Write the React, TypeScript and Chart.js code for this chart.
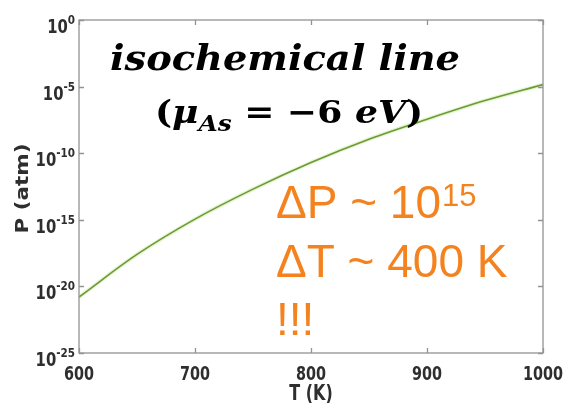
import React, { useEffect, useRef } from "react";
import { Chart, registerables } from "chart.js";
Chart.register(...registerables);

const temperatures = [600, 650, 700, 750, 800, 850, 900, 950, 1000];
const pressures = [1.58e-21, 2.51e-18, 1.12e-15, 2.0e-13, 2.0e-11, 1.12e-9, 3.55e-8, 8.9e-7, 1.41e-5];
const xTicks = [600, 700, 800, 900, 1000];
const yTickExponents = [0, -5, -10, -15, -20, -25];
const xTitle = "T (K)";
const yTitle = "P (atm)";
const titleLine1 = "isochemical line";
const noteP = ["\u0394P ~ 10", "15"];
const noteT = "\u0394T ~ 400 K";
const noteBang = "!!!";

const AXIS_FONT = "bold 20px 'DejaVu Sans', sans-serif";
const SERIF = "'DejaVu Serif', 'Liberation Serif', serif";
const ORANGE = "#F4831F";

function drawScaled(ctx: CanvasRenderingContext2D, text: string, x: number, y: number, sx: number, align: "left" | "center" | "right") {
  const w = ctx.measureText(text).width * sx;
  let x0 = x;
  if (align === "center") x0 = x - w / 2;
  if (align === "right") x0 = x - w;
  ctx.save();
  ctx.translate(x0, y);
  ctx.scale(sx, 1);
  ctx.textAlign = "left";
  ctx.fillText(text, 0, 0);
  ctx.restore();
  return w;
}

const decorPlugin = {
  id: "decor",
  afterDraw(chart: any) {
    const ctx: CanvasRenderingContext2D = chart.ctx;
    const { left, top, right, bottom } = chart.chartArea;
    const xs = chart.scales.x;
    const ys = chart.scales.y;
    ctx.save();
    // box
    ctx.strokeStyle = "#939393";
    ctx.lineWidth = 1.3;
    ctx.strokeRect(left, top, right - left, bottom - top);
    // inner ticks
    ctx.beginPath();
    xTicks.forEach((t) => {
      const px = Math.round(xs.getPixelForValue(t)) + 0.5;
      ctx.moveTo(px, bottom);
      ctx.lineTo(px, bottom - 5);
      ctx.moveTo(px, top);
      ctx.lineTo(px, top + 5);
    });
    yTickExponents.forEach((e) => {
      const py = Math.round(ys.getPixelForValue(Math.pow(10, e))) + 0.5;
      ctx.moveTo(left, py);
      ctx.lineTo(left + 5, py);
      ctx.moveTo(right, py);
      ctx.lineTo(right - 5, py);
    });
    ctx.stroke();

    // x tick labels
    ctx.fillStyle = "#2e2e2e";
    ctx.textBaseline = "alphabetic";
    ctx.font = AXIS_FONT;
    xTicks.forEach((t) => {
      drawScaled(ctx, String(t), xs.getPixelForValue(t), bottom + 27, 0.72, "center");
    });
    // x title
    ctx.font = "bold 21px 'DejaVu Sans', sans-serif";
    drawScaled(ctx, xTitle, (left + right) / 2, bottom + 47, 0.76, "center");

    // y tick labels with superscripts
    yTickExponents.forEach((e) => {
      const py = ys.getPixelForValue(Math.pow(10, e));
      ctx.font = "bold 13px 'DejaVu Sans', sans-serif";
      const supW = drawScaled(ctx, String(e), left - 4, py + 4, 0.8, "right");
      ctx.font = "bold 19px 'DejaVu Sans', sans-serif";
      drawScaled(ctx, "10", left - 4 - supW, py + 13, 0.78, "right");
    });

    // y title
    ctx.save();
    ctx.translate(28, (top + bottom) / 2 + 2);
    ctx.rotate(-Math.PI / 2);
    ctx.font = "bold 18px 'DejaVu Sans', sans-serif";
    const yw = ctx.measureText(yTitle).width;
    drawScaled(ctx, yTitle, 0, 0, 90 / yw, "center");
    ctx.restore();

    // title line 1
    ctx.fillStyle = "#000";
    ctx.font = `italic bold 36px ${SERIF}`;
    const w1 = ctx.measureText(titleLine1).width;
    drawScaled(ctx, titleLine1, 285, 70, 350 / w1, "center");

    // title line 2: (μ_As = −6 eV)
    const segs: [string, string, number][] = [
      ["(", `bold 32px ${SERIF}`, 0],
      ["\u03BC", `italic bold 32px ${SERIF}`, 0],
      ["As", `italic bold 22px ${SERIF}`, 8],
      [" = ", `bold 32px ${SERIF}`, 0],
      ["\u2212", `bold 32px ${SERIF}`, 0],
      ["6 ", `bold 32px ${SERIF}`, 0],
      ["eV", `italic bold 32px ${SERIF}`, 0],
      [")", `bold 32px ${SERIF}`, 0],
    ];
    let total = 0;
    segs.forEach(([t, f]) => {
      ctx.font = f;
      total += ctx.measureText(t).width;
    });
    const sx2 = 268 / total;
    let cx = 155;
    segs.forEach(([t, f, dy]) => {
      ctx.font = f;
      cx += drawScaled(ctx, t, cx, 123 + dy, sx2, "left");
    });

    // orange notes
    ctx.fillStyle = ORANGE;
    ctx.font = "46px 'Liberation Sans', Arial, sans-serif";
    const wp = drawScaled(ctx, noteP[0], 276, 218, 1, "left");
    ctx.font = "31px 'Liberation Sans', Arial, sans-serif";
    drawScaled(ctx, noteP[1], 276 + wp + 1, 206, 1, "left");
    ctx.font = "46px 'Liberation Sans', Arial, sans-serif";
    drawScaled(ctx, noteT, 276, 277, 1, "left");
    drawScaled(ctx, noteBang, 276, 335, 1, "left");
    ctx.restore();
  },
};

export default function App() {
  const ref = useRef<HTMLCanvasElement>(null);
  useEffect(() => {
    document.body.style.margin = "0";
    const points = temperatures.map((t, i) => ({ x: t, y: pressures[i] }));
    const chart = new Chart(ref.current as HTMLCanvasElement, {
      type: "line",
      data: {
        datasets: [
          {
            data: points,
            borderColor: "#6a9a3a",
            borderWidth: 1.6,
            pointRadius: 0,
            tension: 0.35,
            fill: false,
          },
          {
            data: points,
            borderColor: "rgba(215,238,175,0.6)",
            borderWidth: 4,
            pointRadius: 0,
            tension: 0.35,
            fill: false,
          },
        ],
      },
      options: {
        animation: false,
        responsive: false,
        layout: { padding: { left: 79, top: 20, right: 20, bottom: 57 } },
        plugins: { legend: { display: false }, tooltip: { enabled: false } },
        scales: {
          x: { type: "linear", min: 600, max: 1000, display: false },
          y: { type: "logarithmic", min: 1e-25, max: 1, display: false },
        },
      },
      plugins: [decorPlugin],
    });
    return () => chart.destroy();
  }, []);
  return (
    <div style={{ width: 563, height: 410, background: "#fff" }}>
      <canvas ref={ref} width={563} height={410} />
    </div>
  );
}
